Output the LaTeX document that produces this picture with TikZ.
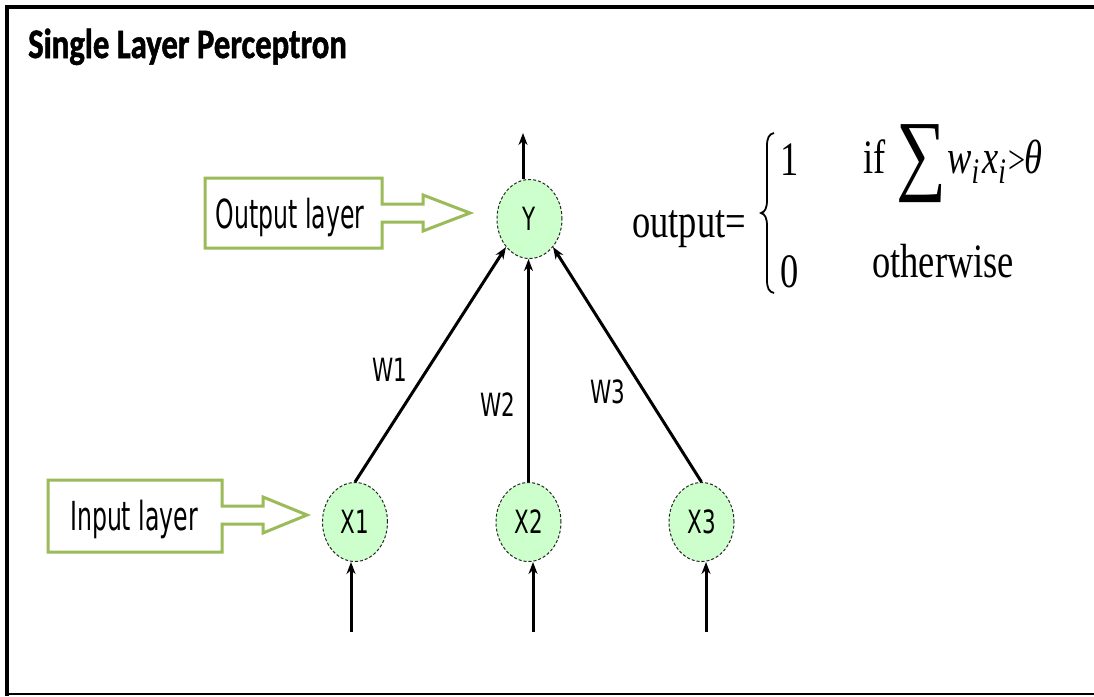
\documentclass[tikz,border=0pt]{standalone}
\usepackage{fontspec}
\usepackage{graphicx}
\usetikzlibrary{shapes.geometric,arrows.meta}
\newfontfamily\tahA[FakeStretch=0.59]{DejaVu Sans}
\newfontfamily\tahB[FakeStretch=0.67]{DejaVu Sans}
\newfontfamily\ttlf[FakeStretch=0.78,FakeBold=1.2]{Carlito}
\newfontfamily\tnr[FakeStretch=0.76]{Liberation Serif}
\definecolor{cgreen}{RGB}{155,187,89}
\definecolor{cfill}{RGB}{204,255,204}
\begin{document}
\begin{tikzpicture}[x=1pt,y=-1pt,
  neuron/.style={ellipse, draw=black!85, densely dashed, line width=1pt, fill=cfill,
    minimum width=65pt, minimum height=79pt, inner sep=0pt,
    font=\tahB\fontsize{32}{32}\selectfont},
  conn/.style={line width=3pt, -{Stealth[length=12pt,width=9pt]}},
  callout/.style={draw=cgreen, line width=3pt, line join=miter},
  calltext/.style={font=\tahA\fontsize{40}{40}\selectfont, inner sep=0pt},
  wlbl/.style={font=\tahB\fontsize{32}{32}\selectfont, inner sep=0pt},
  tnrs/.style={font=\tnr\fontsize{48}{48}\selectfont, inner sep=0pt},
  ttlstyle/.style={font=\ttlf\bfseries\fontsize{42}{42}\selectfont, inner sep=0pt}
]
\useasboundingbox (0,0) rectangle (1094,696);
\fill[white] (0,0) rectangle (1094,696);
% frame
\fill[black] (5,5) rectangle (1094,9);
\fill[black] (5,5) rectangle (9,696);
\fill[black] (9,693) rectangle (1094,695);

\node[ttlstyle, anchor=base west] (title) at (28,58) {Single Layer Perceptron};

% callouts
\draw[callout] (205,178) -- (382,178) -- (382,204) -- (423,204) -- (423,195) -- (470,213) -- (423,231) -- (423,222) -- (382,222) -- (382,248) -- (205,248) -- cycle;
\node[calltext, anchor=base] (outtxt) at (290,228) {Output layer};
\draw[callout] (48,480) -- (222,480) -- (222,506) -- (263,506) -- (263,497) -- (307,515) -- (263,533) -- (263,524) -- (222,524) -- (222,552) -- (48,552) -- cycle;
\node[calltext, anchor=base] (intxt) at (134,530) {Input layer};

% neurons
\node[neuron] (Y) at (529.5,219) {Y};
\node[neuron] (X1) at (355,522) {X1};
\node[neuron] (X2) at (528.5,522) {X2};
\node[neuron] (X3) at (701.5,522) {X3};

% connections
\draw[conn] (X1.north) -- (Y.230);
\draw[conn] (X2.north) -- (X2.north |- Y.south);
\draw[conn] (X3.north) -- (Y.310);
\coordinate (yo) at (523,133);
\draw[conn] (Y.north -| yo) -- (yo);
\coordinate (i1) at (351,632);
\coordinate (i2) at (533,632);
\coordinate (i3) at (706,632);
\draw[conn] (i1) -- (i1 |- X1.south);
\draw[conn] (i2) -- (i2 |- X2.south);
\draw[conn] (i3) -- (i3 |- X3.south);

% weight labels
\node[wlbl] (w1) at (390,370) {W1};
\node[wlbl] (w2) at (498,405) {W2};
\node[wlbl] (w3) at (608,392) {W3};

% formula
\node[tnrs, anchor=base west] (outp) at (632,237) {output=};
\draw[line width=1.8pt] (774,133) .. controls (769,134) and (767,138) .. (767,146) -- (767,200)
  .. controls (767,208) and (765,212) .. (761,213) .. controls (765,214) and (767,218) .. (767,226)
  -- (767,280) .. controls (767,288) and (769,292) .. (774,293);
\node[tnrs, anchor=base west] (one) at (780,175) {1};
\node[tnrs, anchor=base west] (zero) at (780,287) {0};
\node[tnrs, anchor=base west] (iff) at (863,173) {if};
\node[anchor=north west, inner sep=0pt] (sum) at (896,124) {\resizebox*{50pt}{78pt}{\tnr ∑}\hspace*{-10pt}};
\node[anchor=base west, inner sep=0pt] (wx) at (947,173) {\tnr\fontsize{48}{48}\selectfont\itshape w\raisebox{-10pt}{\fontsize{36}{36}\selectfont i}\hspace{3pt}x\raisebox{-10pt}{\fontsize{36}{36}\selectfont i}};
\node[anchor=base west, inner sep=0pt] (gt) at (1008,173) {\tnr\fontsize{40}{40}\selectfont >};
\node[anchor=base west, inner sep=0pt] (th) at (1024,173) {\tnr\fontsize{48}{48}\selectfont\itshape θ};
\node[tnrs, anchor=base west] (oth) at (872,277) {otherwise};
\end{tikzpicture}
\end{document}
